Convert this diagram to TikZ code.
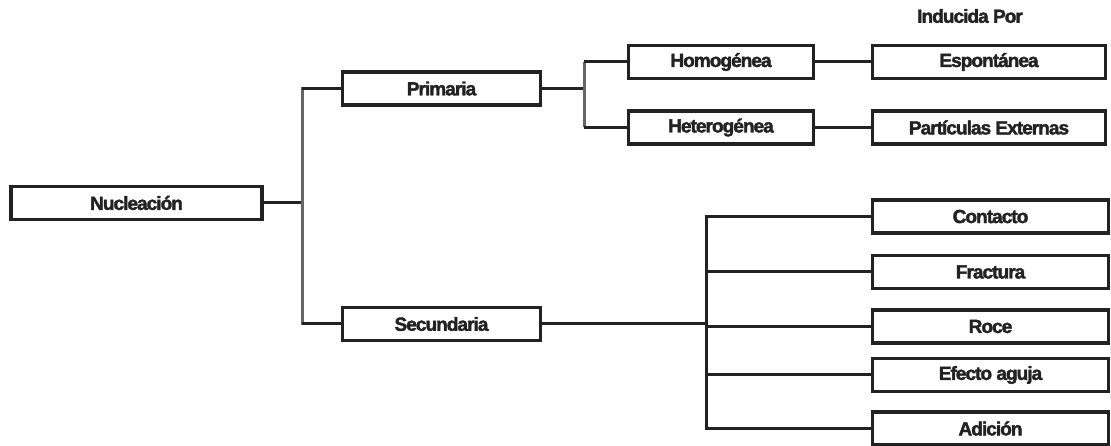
\documentclass[tikz,border=0pt]{standalone}
\usepackage{fontspec}
\newfontfamily\heavy{Liberation Sans Bold}[FakeBold=2,LetterSpace=-5]
\definecolor{ink}{HTML}{222222}
\begin{document}
\begin{tikzpicture}[x=1bp,y=-1bp,
  lbl/.style={font=\heavy\fontsize{19bp}{22bp}\selectfont,text=ink},
  box/.style={lbl,draw=ink,line width=3.5bp,fill=white,minimum height=33bp,inner sep=0pt},
  conn/.style={draw=ink,line width=3bp}]
\useasboundingbox (0,0) rectangle (1111,446);
\node[box,minimum width=251bp] (nuc) at (136.5,203) {Nucleación};
\node[box,minimum width=198bp] (pri) at (441.5,88.5) {Primaria};
\node[box,minimum width=198bp] (sec) at (441.5,324) {Secundaria};
\node[box,minimum width=185bp] (hom) at (721,62) {Homogénea};
\node[box,minimum width=185bp] (het) at (721,127.5) {Heterogénea};
\node[box,minimum width=233bp] (esp) at (989,62) {Espontánea};
\node[box,minimum width=233bp] (par) at (989,127.5) {Partículas Externas};
\node[lbl] (ind) at (970,16) {Inducida Por};
\node[box,minimum width=236bp] (con) at (990.5,216.5) {Contacto};
\node[box,minimum width=236bp] (fra) at (990.5,272) {Fractura};
\node[box,minimum width=236bp] (roc) at (990.5,326.5) {Roce};
\node[box,minimum width=236bp] (efe) at (990.5,375) {Efecto aguja};
\node[box,minimum width=236bp] (adi) at (990.5,428.5) {Adición};
% trunk
\coordinate (tr) at (302,0);
\draw[conn] (nuc.east) -- (nuc.east -| tr);
\draw[conn,gray!80!black] (pri.west) -- (pri.west -| tr) -- (sec.west -| tr) -- (sec.west);
\draw[conn] (pri.west) -- (pri.west -| tr);
\draw[conn] (sec.west) -- (sec.west -| tr);
% primaria bracket
\coordinate (b1) at (584,0);
\draw[conn] (pri.east) -- (pri.east -| b1);
\draw[conn,gray!80!black] (hom.west -| b1) -- (het.west -| b1);
\draw[conn] (hom.west) -- (hom.west -| b1);
\draw[conn] (het.west) -- (het.west -| b1);
\draw[conn] (hom) -- (esp);
\draw[conn] (het) -- (par);
% secundaria bracket
\coordinate (b2) at (706,0);
\draw[conn] (sec.east) -- (sec.east -| b2);
\draw[conn] (con.west) -- (con.west -| b2) -- (adi.west -| b2) -- (adi.west);
\draw[conn] (fra.west) -- (fra.west -| b2);
\draw[conn] (roc.west) -- (roc.west -| b2);
\draw[conn] (efe.west) -- (efe.west -| b2);
\end{tikzpicture}
\end{document}
